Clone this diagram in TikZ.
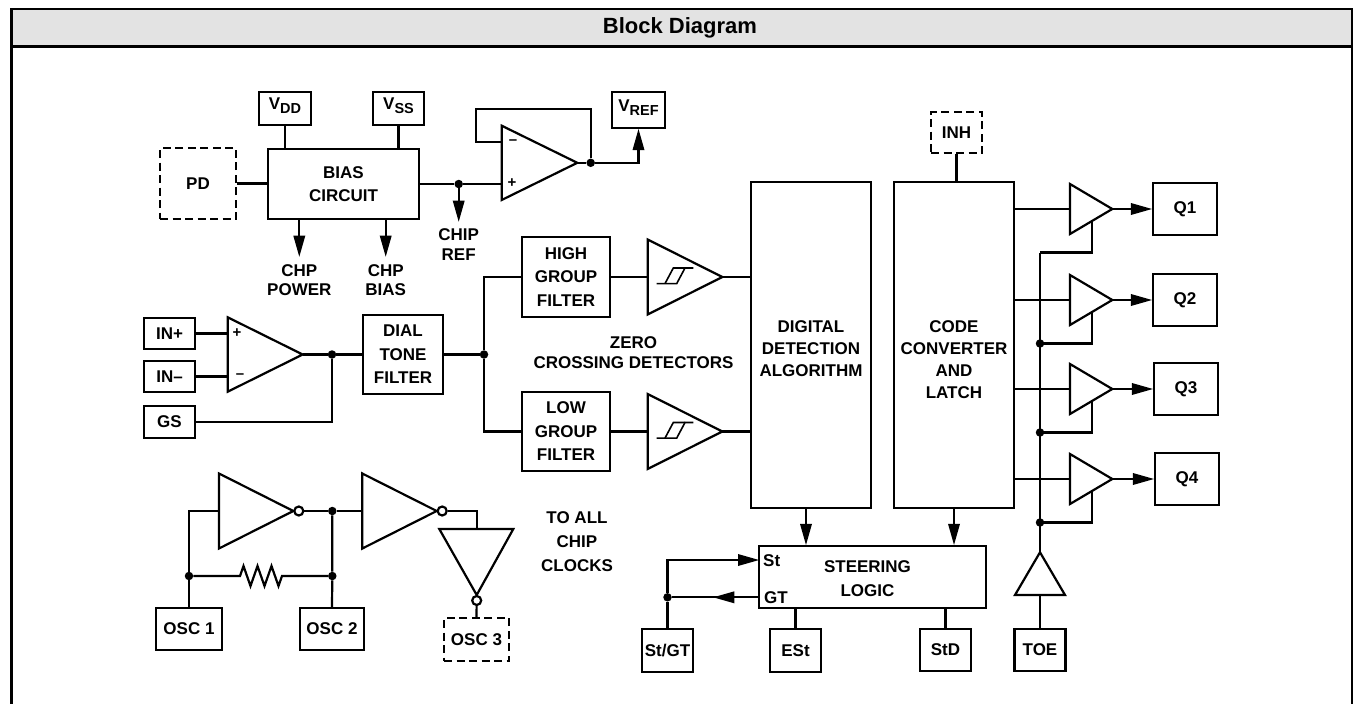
\documentclass[tikz,border=0pt]{standalone}
\usepackage{fontspec}
\setmainfont{Liberation Sans}
\usetikzlibrary{arrows.meta}
\definecolor{hdr}{RGB}{227,227,227}
\newcommand\lbl{\fontsize{17}{20}\selectfont\bfseries}
\newcommand\lblw{\fontsize{17}{23.5}\selectfont\bfseries}
\newcommand\sub[1]{\raisebox{-4pt}{\fontsize{14.5}{14.5}\selectfont #1}}
\newcommand\bxn[7][box]{\node[#1, minimum width={(#5-#3)*1pt}, minimum height={(#6-#4)*1pt}] (#2) at ({(#3+#5)/2},{(#4+#6)/2}) {#7};}
\newcommand\obuf[2]{%
  \draw[tri] (1070,{#2-25}) -- (1112.3,#2) -- (1070,{#2+25}) -- cycle;
  \coordinate (#1i) at (1070,#2);
  \coordinate (#1o) at (1112.3,#2);
  \coordinate (#1e) at (1092.3,{#2+11.8});
  \coordinate (#1k) at (1092.3,{#2+43.5});
  \coordinate (#1b) at (1040,{#2+43.5});}
\begin{document}
\begin{tikzpicture}[x=1pt,y=-1pt,
  wire/.style={line width=2.2pt},
  box/.style={draw, line width=2.2pt, inner sep=0pt, align=center, font=\lblw},
  dbox/.style={box, dash pattern=on 8pt off 4.5pt},
  vbox/.style={box, text height=12pt, text depth=10pt},
  arr/.style={wire, -{Triangle[length=21pt,width=12pt,line width=0pt]}},
  jdot/.style={circle, fill, inner sep=0pt, minimum size=8.5pt},
  txt/.style={align=center, inner sep=0pt, font=\lbl},
  sgn/.style={inner sep=0pt, font=\fontsize{15}{15}\selectfont\bfseries},
  tri/.style={line width=2.2pt, line join=miter},
  bub/.style={circle, draw, line width=2.2pt, fill=white, inner sep=0pt, minimum size=9pt}
]
\useasboundingbox (0,0) rectangle (1353,704);

% frame and header
\fill[hdr] (11.5,9) rectangle (1351.7,46.5);
\draw[line width=2.2pt] (11.5,720) -- (11.5,9) -- (1351.7,9) -- (1351.7,720);
\draw[line width=2.4pt] (11.5,46.5) -- (1351.7,46.5);
\node[font=\fontsize{22}{22}\selectfont\bfseries, inner sep=0pt] (title) at (680,28) {Block Diagram};

% ---------- bias section ----------
\bxn[vbox]{vdd}{259}{92}{311}{125}{V\sub{DD}}
\bxn[vbox]{vss}{373}{92}{424}{125}{V\sub{SS}}
\bxn[vbox]{vref}{612}{92}{665}{128}{V\sub{REF}}
\bxn[dbox]{pd}{160}{148}{236}{219}{PD}
\bxn{bias}{268}{149}{419}{219}{BIAS\\CIRCUIT}
\draw[wire] (vdd.south) -- (vdd.south |- bias.north);
\draw[wire] (vss.south) -- (vss.south |- bias.north);
\draw[wire] (pd.east) -- (pd.east -| bias.west);
\node[jdot] (refdot) at (458.7,184) {};
\draw[wire] (bias.east) -- (refdot);

% reference buffer op amp
\coordinate (a1p) at (501.7,184);
\coordinate (a1m) at (501.7,141.7);
\coordinate (a1o) at (577.3,162.8);
\coordinate (fbk) at (475.7,109);
\draw[tri] (501.7,125.7) -- (a1o) -- (501.7,200) -- cycle;
\node[sgn] (a1minus) at (513,141.7) {–};
\node[sgn] (a1plus) at (512,183.5) {+};
\draw[wire] (refdot) -- (a1p);
\node[jdot] (a1dot) at (590.7,162.8) {};
\draw[wire] (a1o) -- (a1dot);
\draw[wire] (a1m) -| (fbk) -| (a1dot);
\draw[arr] (a1dot) -| (vref.south);

% bias outputs
\coordinate (chpp) at (299.3,256.7);
\coordinate (chpb) at (385.7,256.7);
\coordinate (chref) at (458.7,221.7);
\draw[arr] (bias.south -| chpp) -- (chpp);
\draw[arr] (bias.south -| chpb) -- (chpb);
\draw[arr] (refdot) -- (chref);
\node[txt, font=\fontsize{17}{19.5}\selectfont\bfseries] (tchpp) at (299.3,280) {CHP\\POWER};
\node[txt, font=\fontsize{17}{19.5}\selectfont\bfseries] (tchpb) at (385.7,280) {CHP\\BIAS};
\node[txt, font=\fontsize{17}{19.5}\selectfont\bfseries] (tchref) at (458.7,244.8) {CHIP\\REF};

% ---------- input section ----------
\bxn{inp}{144}{318}{195}{349}{IN+}
\bxn{inm}{144}{361}{195}{392}{IN–}
\bxn{gs}{144}{406}{195}{438}{GS}
\coordinate (a2p) at (227.7,333.5);
\coordinate (a2m) at (227.7,376.5);
\coordinate (a2o) at (302.7,354.5);
\draw[tri] (227.7,317.3) -- (a2o) -- (227.7,391.7) -- cycle;
\node[sgn] (a2plus) at (237,333.5) {+};
\node[sgn] (a2minus) at (240,376) {–};
\draw[wire] (inp.east) -- (a2p);
\draw[wire] (inm.east) -- (a2m);
\node[jdot] (a2dot) at (332,354.5) {};
\draw[wire] (a2o) -- (a2dot);
\draw[wire] (gs.east) -| (a2dot);
\bxn{dial}{363}{315}{443}{394}{DIAL\\TONE\\FILTER}
\draw[wire] (a2dot) -- (dial.west);
\node[jdot] (fdot) at (484,354.5) {};
\draw[wire] (dial.east) -- (fdot);
\bxn{high}{522}{237}{610}{317}{HIGH\\GROUP\\FILTER}
\bxn{low}{522}{392}{610}{471}{LOW\\GROUP\\FILTER}
\draw[wire] (high.west) -| (fdot) |- (low.west);

% zero crossing comparators
\coordinate (c1i) at (647.7,277);
\coordinate (c1o) at (722.3,277);
\coordinate (c2i) at (647.7,431.5);
\coordinate (c2o) at (722.3,431.5);
\draw[tri] (647.7,239.5) -- (c1o) -- (647.7,314.5) -- cycle;
\draw[tri] (647.7,394) -- (c2o) -- (647.7,469) -- cycle;
\foreach \cy in {277,431.5}{
  \begin{scope}[shift={(647.7,\cy)}, line width=1.6pt]
    \draw (9,6.6) -- (29,6.6) -- (37.3,-9) -- (45.6,-9);
    \draw (17.3,6.6) -- (25.6,-9) -- (37.3,-9);
  \end{scope}}
\draw[wire] (high.east) -- (c1i);
\draw[wire] (low.east) -- (c2i);
\node[txt] (zcd) at (633.5,352.2) {ZERO\\CROSSING DETECTORS};

% ---------- detection and latch ----------
\bxn{digital}{751}{182}{871}{508}{}
\bxn{code}{894}{182}{1014}{508}{}
\node[txt, font=\fontsize{17}{22}\selectfont\bfseries] (digtxt) at (811,348.5) {DIGITAL\\DETECTION\\ALGORITHM};
\node[txt, font=\fontsize{17}{22}\selectfont\bfseries] (codetxt) at (954,359.5) {CODE\\CONVERTER\\AND\\LATCH};
\draw[wire] (c1o) -- (c1o -| digital.west);
\draw[wire] (c2o) -- (c2o -| digital.west);
\bxn[dbox]{inh}{931}{112}{982}{153}{INH}
\draw[wire] (inh.south) -- (inh.south |- code.north);

% output buffers
\bxn{q1}{1153}{183}{1217}{235}{Q1}
\bxn{q2}{1153}{274}{1217}{326}{Q2}
\bxn{q3}{1154}{363}{1218}{415}{Q3}
\bxn{q4}{1155}{453}{1219}{505}{Q4}
\obuf{ba}{209}
\obuf{bb}{300}
\obuf{bc}{389}
\obuf{bd}{479}
\foreach \b/\q in {ba/q1,bb/q2,bc/q3,bd/q4}{
  \draw[wire] (\b i -| code.east) -- (\b i);
  \draw[arr] (\b o) -- (\q.west);
  \draw[wire] (\b e) -- (\b k) -- (\b b);}
\node[jdot] (dbb) at (bbb) {};
\node[jdot] (dbc) at (bcb) {};
\node[jdot] (dbd) at (bdb) {};
\coordinate (toeapex) at (1040,552.3);
\coordinate (toebase) at (1040,595);
\draw[tri] (1015,595) -- (toeapex) -- (1065,595) -- cycle;
\draw[wire] (bab) -- (toeapex);
\bxn{toe}{1014.5}{629}{1065.5}{671}{TOE}
\draw[wire] (toe.north) -- (toebase);

% ---------- steering logic ----------
\bxn{steer}{759}{546}{986}{608}{}
\node[txt, font=\fontsize{17}{24}\selectfont\bfseries] (steertxt) at (867.5,578.6) {STEERING\\LOGIC};
\node[txt, anchor=west] (stlab) at (763,560.6) {St};
\node[txt, anchor=west] (gtlab) at (764,597.6) {GT};
\bxn{stgt}{642}{629}{693}{672}{St/GT}
\bxn{est}{770}{629}{821}{672}{ESt}
\bxn{std}{920}{629}{971}{671}{StD}
\coordinate (stpin) at (759,560);
\coordinate (gtpin) at (759,597.3);
\coordinate (gtarr) at (713.3,597.3);
\node[jdot] (gtdot) at (667.5,597.3) {};
\draw[wire] (stgt.north) -- (gtdot);
\draw[arr] (gtdot) |- (stpin);
\draw[wire] (gtpin) -- (gtdot);
\draw[arr] (gtpin) -- (gtarr);
\coordinate (dsx) at (806,508);
\draw[arr] (dsx) -- (dsx |- steer.north);
\draw[arr] (code.south) -- (code.south |- steer.north);
\draw[wire] (est.north) -- (est.north |- steer.south);
\draw[wire] (std.north) -- (std.north |- steer.south);

% ---------- oscillator ----------
\bxn{osc1}{156}{608}{222}{650}{OSC 1}
\bxn{osc2}{300}{608}{364}{650}{OSC 2}
\bxn[dbox]{osc3}{444}{618}{509}{661}{OSC 3}
\coordinate (i1in) at (219,511);
\coordinate (i2in) at (362.3,511);
\coordinate (i3top) at (476.7,529);
\draw[tri] (219,473.5) -- (293.3,511) -- (219,548.5) -- cycle;
\draw[tri] (362.3,473.5) -- (436.7,511) -- (362.3,548.5) -- cycle;
\draw[tri] (439.3,529) -- (513.3,529) -- (476.7,595) -- cycle;
\node[bub] (i1b) at (298.8,511) {};
\node[bub] (i2b) at (442.2,511) {};
\node[bub] (i3b) at (476.7,600.5) {};
\node[jdot] (o1dot) at (189,576) {};
\node[jdot] (o2dot) at (332.3,576) {};
\node[jdot] (n1dot) at (332.3,511) {};
\draw[wire] (i1in) -| (o1dot);
\draw[wire] (o1dot) -- (osc1.north);
\draw[wire] (i1b) -- (n1dot) -- (i2in);
\draw[wire] (n1dot) -- (o2dot) -- (osc2.north);
\draw[wire, line join=miter] (o1dot) -- (240,576) -- (243.5,566) -- (250.5,586) -- (257.5,566) -- (264.5,586) -- (271.5,566) -- (278.5,586) -- (282,576) -- (o2dot);
\draw[wire] (i2b) -| (i3top);
\draw[wire] (i3b) -- (osc3.north);
\node[txt, font=\fontsize{17}{23.9}\selectfont\bfseries] (clk) at (577,542) {TO ALL\\CHIP\\CLOCKS};
\end{tikzpicture}
\end{document}
